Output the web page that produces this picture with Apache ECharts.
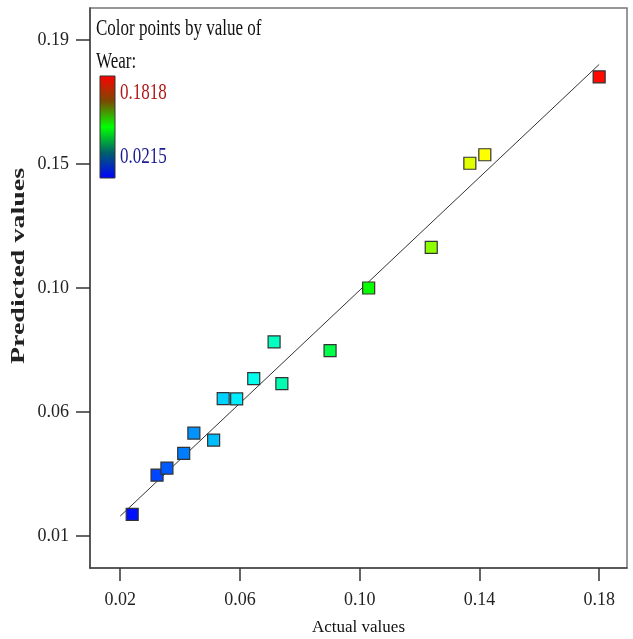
<!DOCTYPE html>
<html>
<head>
<meta charset="utf-8">
<script src="https://cdn.jsdelivr.net/npm/echarts@6/dist/echarts.min.js"></script>
<style>
  html, body { margin: 0; padding: 0; background: #fff; }
  #chart { width: 633px; height: 639px; }
</style>
</head>
<body>
<div id="chart"></div>
<script>
// actual vs predicted wear
var actualValues = [0.0240, 0.0323, 0.0356, 0.0412, 0.0446, 0.0512, 0.0544, 0.0589, 0.0646,
    0.0714, 0.0740, 0.0901, 0.1030, 0.1239, 0.1368, 0.1418, 0.1800];
var predictedValues = [0.0206, 0.0345, 0.0370, 0.0422, 0.0494, 0.0469, 0.0616, 0.0615, 0.0687,
    0.0817, 0.0669, 0.0786, 0.1008, 0.1152, 0.1450, 0.1480, 0.1756];
var xTicks = [0.02, 0.06, 0.10, 0.14, 0.18];
var xTickLabels = ['0.02', '0.06', '0.10', '0.14', '0.18'];
var yTicks = [0.0130, 0.0569, 0.1008, 0.1447, 0.1886];
var yTickLabels = ['0.01', '0.06', '0.10', '0.15', '0.19'];
var wearRange = [0.0215, 0.1818];
var fitLine = [[0.02, 0.02], [0.18, 0.18]];

var points = [];
actualValues.forEach(function (v, i) {
    points.push([v, predictedValues[i]]);
});

function tickLabel(ticks, labels) {
    return function (value) {
        for (var i = 0; i < ticks.length; i++) {
            if (Math.abs(ticks[i] - value) < 1e-6) return labels[i];
        }
        return '';
    };
}

var serif = '"Liberation Serif", "DejaVu Serif", serif';

var chartDom = document.getElementById('chart');
var myChart = echarts.init(chartDom);
var option = {
    backgroundColor: '#fff',
    animation: false,
    grid: {
        left: 90,
        top: 8,
        right: 6,
        bottom: 71,
        show: true,
        borderColor: '#777',
        borderWidth: 1.5,
        outerBoundsMode: 'none'
    },
    visualMap: {
        show: false,
        type: 'continuous',
        seriesIndex: 0,
        dimension: 0,
        min: wearRange[0],
        max: wearRange[1],
        inRange: {
            color: ['#0000ff', '#00ffff', '#00ff00', '#ffff00', '#ff0000']
        }
    },
    xAxis: {
        type: 'value',
        min: 0.0099,
        max: 0.1893,
        name: 'Actual values',
        nameLocation: 'middle',
        nameGap: 51,
        nameTextStyle: { fontFamily: serif, fontSize: 17, color: '#111' },
        splitLine: { show: false },
        axisLine: { onZero: false, lineStyle: { color: '#444', width: 1.5 } },
        axisTick: {
            customValues: xTicks,
            length: 13,
            lineStyle: { color: '#333', width: 1.5 }
        },
        axisLabel: {
            customValues: xTicks,
            margin: 23,
            fontFamily: serif,
            fontSize: 18,
            color: '#222',
            formatter: tickLabel(xTicks, xTickLabels)
        }
    },
    yAxis: {
        type: 'value',
        min: 0.0016,
        max: 0.2000,
        splitLine: { show: false },
        axisLine: { onZero: false, lineStyle: { color: '#444', width: 1.5 } },
        axisTick: {
            customValues: yTicks,
            length: 14,
            lineStyle: { color: '#333', width: 1.5 }
        },
        axisLabel: {
            customValues: yTicks,
            margin: 21,
            fontFamily: serif,
            fontSize: 18,
            color: '#222',
            formatter: tickLabel(yTicks, yTickLabels)
        }
    },
    graphic: [
        {
            type: 'text', x: 19, y: 266, rotation: Math.PI / 2, scaleY: 0.64,
            style: {
                text: 'Predicted values', font: 'bold 28px ' + serif, fill: '#222',
                textAlign: 'center', textVerticalAlign: 'middle'
            }
        },
        {
            type: 'text', x: 96, y: 17, scaleX: 0.74,
            style: { text: 'Color points by value of', font: '23px ' + serif, fill: '#111' }
        },
        {
            type: 'text', x: 96, y: 50, scaleX: 0.74,
            style: { text: 'Wear:', font: '23px ' + serif, fill: '#111' }
        },
        {
            type: 'rect', shape: { x: 100, y: 76, width: 15, height: 102 },
            style: {
                stroke: '#333', lineWidth: 1,
                fill: new echarts.graphic.LinearGradient(0, 0, 0, 1, [
                    { offset: 0, color: '#ff0000' },
                    { offset: 0.25, color: '#7a4a00' },
                    { offset: 0.5, color: '#00ff00' },
                    { offset: 0.75, color: '#00606a' },
                    { offset: 1, color: '#0000ff' }
                ])
            }
        },
        {
            type: 'text', x: 120, y: 81, scaleX: 0.74,
            style: { text: wearRange[1].toFixed(4), font: '23px ' + serif, fill: '#b01818' }
        },
        {
            type: 'text', x: 120, y: 145, scaleX: 0.74,
            style: { text: wearRange[0].toFixed(4), font: '23px ' + serif, fill: '#1c1c90' }
        }
    ],
    series: [
        {
            name: 'Wear',
            type: 'scatter',
            symbol: 'rect',
            symbolSize: 12,
            data: points,
            itemStyle: { borderColor: '#333', borderWidth: 1.2, opacity: 1 },
            z: 3
        },
        {
            type: 'line',
            data: fitLine,
            symbol: 'none',
            lineStyle: { color: '#333', width: 1 },
            z: 2
        }
    ]
};
myChart.setOption(option);

window.addEventListener('resize', function () {
    myChart.resize();
});
</script>
</body>
</html>
